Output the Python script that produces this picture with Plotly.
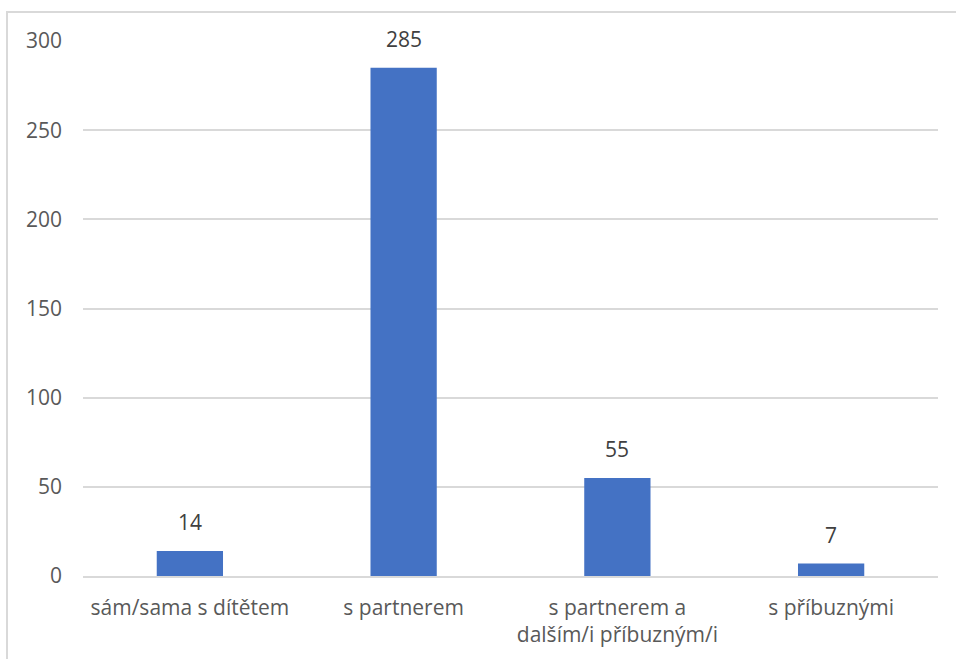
import plotly.graph_objects as go

categories = ["sám/sama s dítětem", "s partnerem", "s partnerem a<br>dalším/i příbuzným/i", "s příbuznými"]
values = [14, 285, 55, 7]
y_ticks = [0, 50, 100, 150, 200, 250, 300]

FONT = "Open Sans"
TEXT = "#595959"
GRID = "#d9d9d9"
BAR = "#4472C4"
FS = 21

W, H = 956, 659
L, R, T, B = 83, 18, 41, 83

fig = go.Figure(
    go.Bar(
        x=categories,
        y=values,
        marker=dict(color=BAR, line=dict(width=0)),
        width=0.31,
        hoverinfo="x+y",
    )
)

# value labels above each bar
for c, v in zip(categories, values):
    fig.add_annotation(
        x=c, y=v, text=str(v), showarrow=False,
        yanchor="bottom", yshift=13,
        font=dict(family=FONT, size=FS, color="#404040"),
    )

fig.update_layout(
    width=W,
    height=H,
    margin=dict(l=L, r=R, t=T, b=B, pad=0),
    paper_bgcolor="white",
    plot_bgcolor="white",
    showlegend=False,
    font=dict(family=FONT, size=FS, color=TEXT),
    xaxis=dict(
        showgrid=False,
        showline=True,
        linecolor=GRID,
        linewidth=1.5,
        ticks="",
        tickfont=dict(family=FONT, size=FS, color=TEXT),
        ticklabelstandoff=12,
    ),
    yaxis=dict(
        range=[0, 300],
        tickvals=y_ticks,
        showgrid=True,
        gridcolor=GRID,
        gridwidth=1.5,
        zeroline=False,
        showline=False,
        ticks="",
        tickfont=dict(family=FONT, size=FS, color=TEXT),
        ticklabelstandoff=20,
    ),
    shapes=[
        dict(
            type="rect",
            xref="paper",
            yref="paper",
            x0=(7 - L) / (W - L - R),
            x1=1.2,
            y0=-0.3,
            y1=(H - B - 12) / (H - T - B),
            line=dict(color=GRID, width=2),
            fillcolor="rgba(0,0,0,0)",
            layer="below",
        )
    ],
)

fig.write_html("out.html")
